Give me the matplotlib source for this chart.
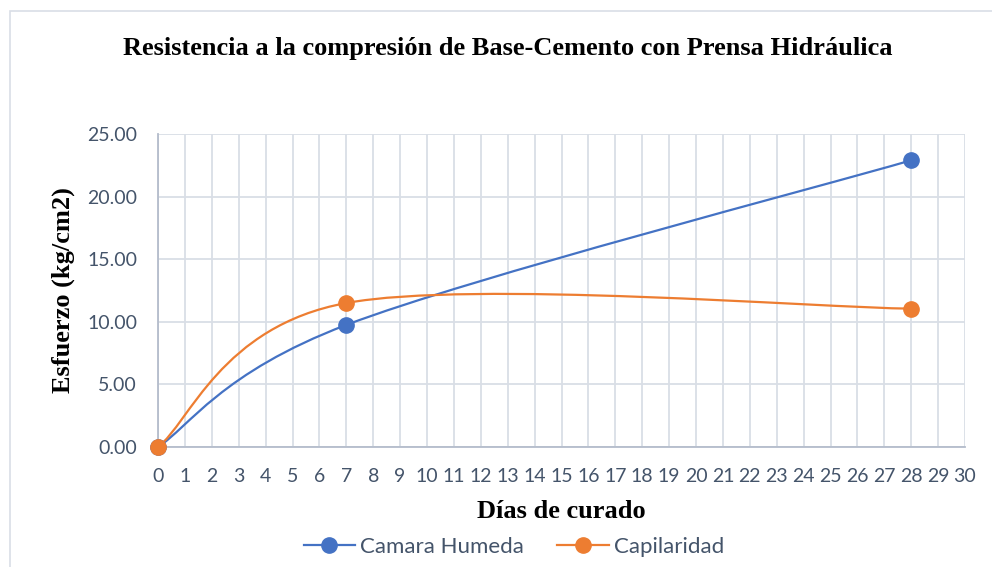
import numpy as np
import matplotlib
matplotlib.use("Agg")
import matplotlib.pyplot as plt
from matplotlib.path import Path
from matplotlib.patches import PathPatch, Rectangle
from matplotlib.lines import Line2D

# Data
dias = [0, 7, 28]
camara_humeda = [0.00, 9.75, 22.90]
capilaridad = [0.00, 11.50, 11.05]
x_ticks = list(range(0, 31))
y_ticks = [0, 5, 10, 15, 20, 25]

title = "Resistencia a la compresión de Base-Cemento con Prensa Hidráulica"
xlabel = "Días de curado"
ylabel = "Esfuerzo (kg/cm2)"
names = ["Camara Humeda", "Capilaridad"]
colors = ["#4472C4", "#ED7D31"]

serif = ["Liberation Serif", "DejaVu Serif"]
sans = ["Lato", "DejaVu Sans"]
txt_color = "#44546A"


def excel_smooth_path(xs, ys):
    pts = np.column_stack([xs, ys]).astype(float)
    n = len(pts)
    verts = [tuple(pts[0])]
    codes = [Path.MOVETO]
    for i in range(n - 1):
        p0 = pts[i - 1] if i > 0 else pts[i]
        p1 = pts[i]
        p2 = pts[i + 1]
        p3 = pts[i + 2] if i + 2 < n else pts[i + 1]
        c1 = p1 + (p2 - p0) / 6.0
        c2 = p2 - (p3 - p1) / 6.0
        verts += [tuple(c1), tuple(c2), tuple(p2)]
        codes += [Path.CURVE4] * 3
    return Path(verts, codes)


W, H = 992, 567
fig = plt.figure(figsize=(W / 100, H / 100), dpi=100)

# chart area border
fig.patches.append(Rectangle((10 / W, -0.1), 1.2, 1 - 11 / H + 0.1, transform=fig.transFigure,
                             fill=False, edgecolor="#D9DEE6", lw=1.2, zorder=0))

ax = fig.add_axes([158 / W, 1 - 447 / H, (965 - 158) / W, (447 - 134) / H])

for ys, c in zip([camara_humeda, capilaridad], colors):
    patch = PathPatch(excel_smooth_path(dias, ys), facecolor="none", edgecolor=c, lw=1.6, zorder=3)
    ax.add_patch(patch)
    ax.plot(dias, ys, linestyle="none", marker="o", markersize=11, color=c, zorder=4, clip_on=False)

ax.set_xlim(0, 30)
ax.set_ylim(0, 25)
ax.set_xticks(x_ticks)
ax.set_xticklabels([str(v) for v in x_ticks], fontfamily=sans, fontsize=14, color=txt_color)
ax.set_yticks(y_ticks)
ax.set_yticklabels([f"{v:.2f}" for v in y_ticks], fontfamily=sans, fontsize=14, color=txt_color)
ax.tick_params(axis="x", length=0, pad=15)
ax.tick_params(axis="y", length=0, pad=15)
ax.grid(True, color="#D9DEE6", lw=1.3, zorder=0)
ax.set_axisbelow(True)
for s in ["top", "right"]:
    ax.spines[s].set_visible(False)
for s in ["left", "bottom"]:
    ax.spines[s].set_color("#B4BCCB")
    ax.spines[s].set_linewidth(1.3)

ax.set_xlabel(xlabel, fontfamily=serif, fontweight="bold", fontsize=19, color="black", va="center")
ax.xaxis.set_label_coords(0.5, (447 - 511) / (447 - 134))
ax.set_ylabel(ylabel, fontfamily=serif, fontweight="bold", fontsize=19, color="black", va="center")
ax.yaxis.set_label_coords((63 - 158) / (965 - 158), 0.5)
fig.text(508 / W, 1 - 48 / H, title, ha="center", va="center", fontfamily=serif,
         fontweight="bold", fontsize=19, color="black")

handles = [Line2D([0], [0], color=c, lw=1.6, marker="o", markersize=11) for c in colors]
leg = fig.legend(handles, names, loc="center", bbox_to_anchor=(514 / W, 1 - 547 / H), ncol=2,
                 frameon=False, prop={"family": sans, "size": 16}, handlelength=2.3,
                 columnspacing=1.5, handletextpad=0.25, borderpad=0)
for t in leg.get_texts():
    t.set_color(txt_color)

fig.savefig("out.png", dpi=100)
